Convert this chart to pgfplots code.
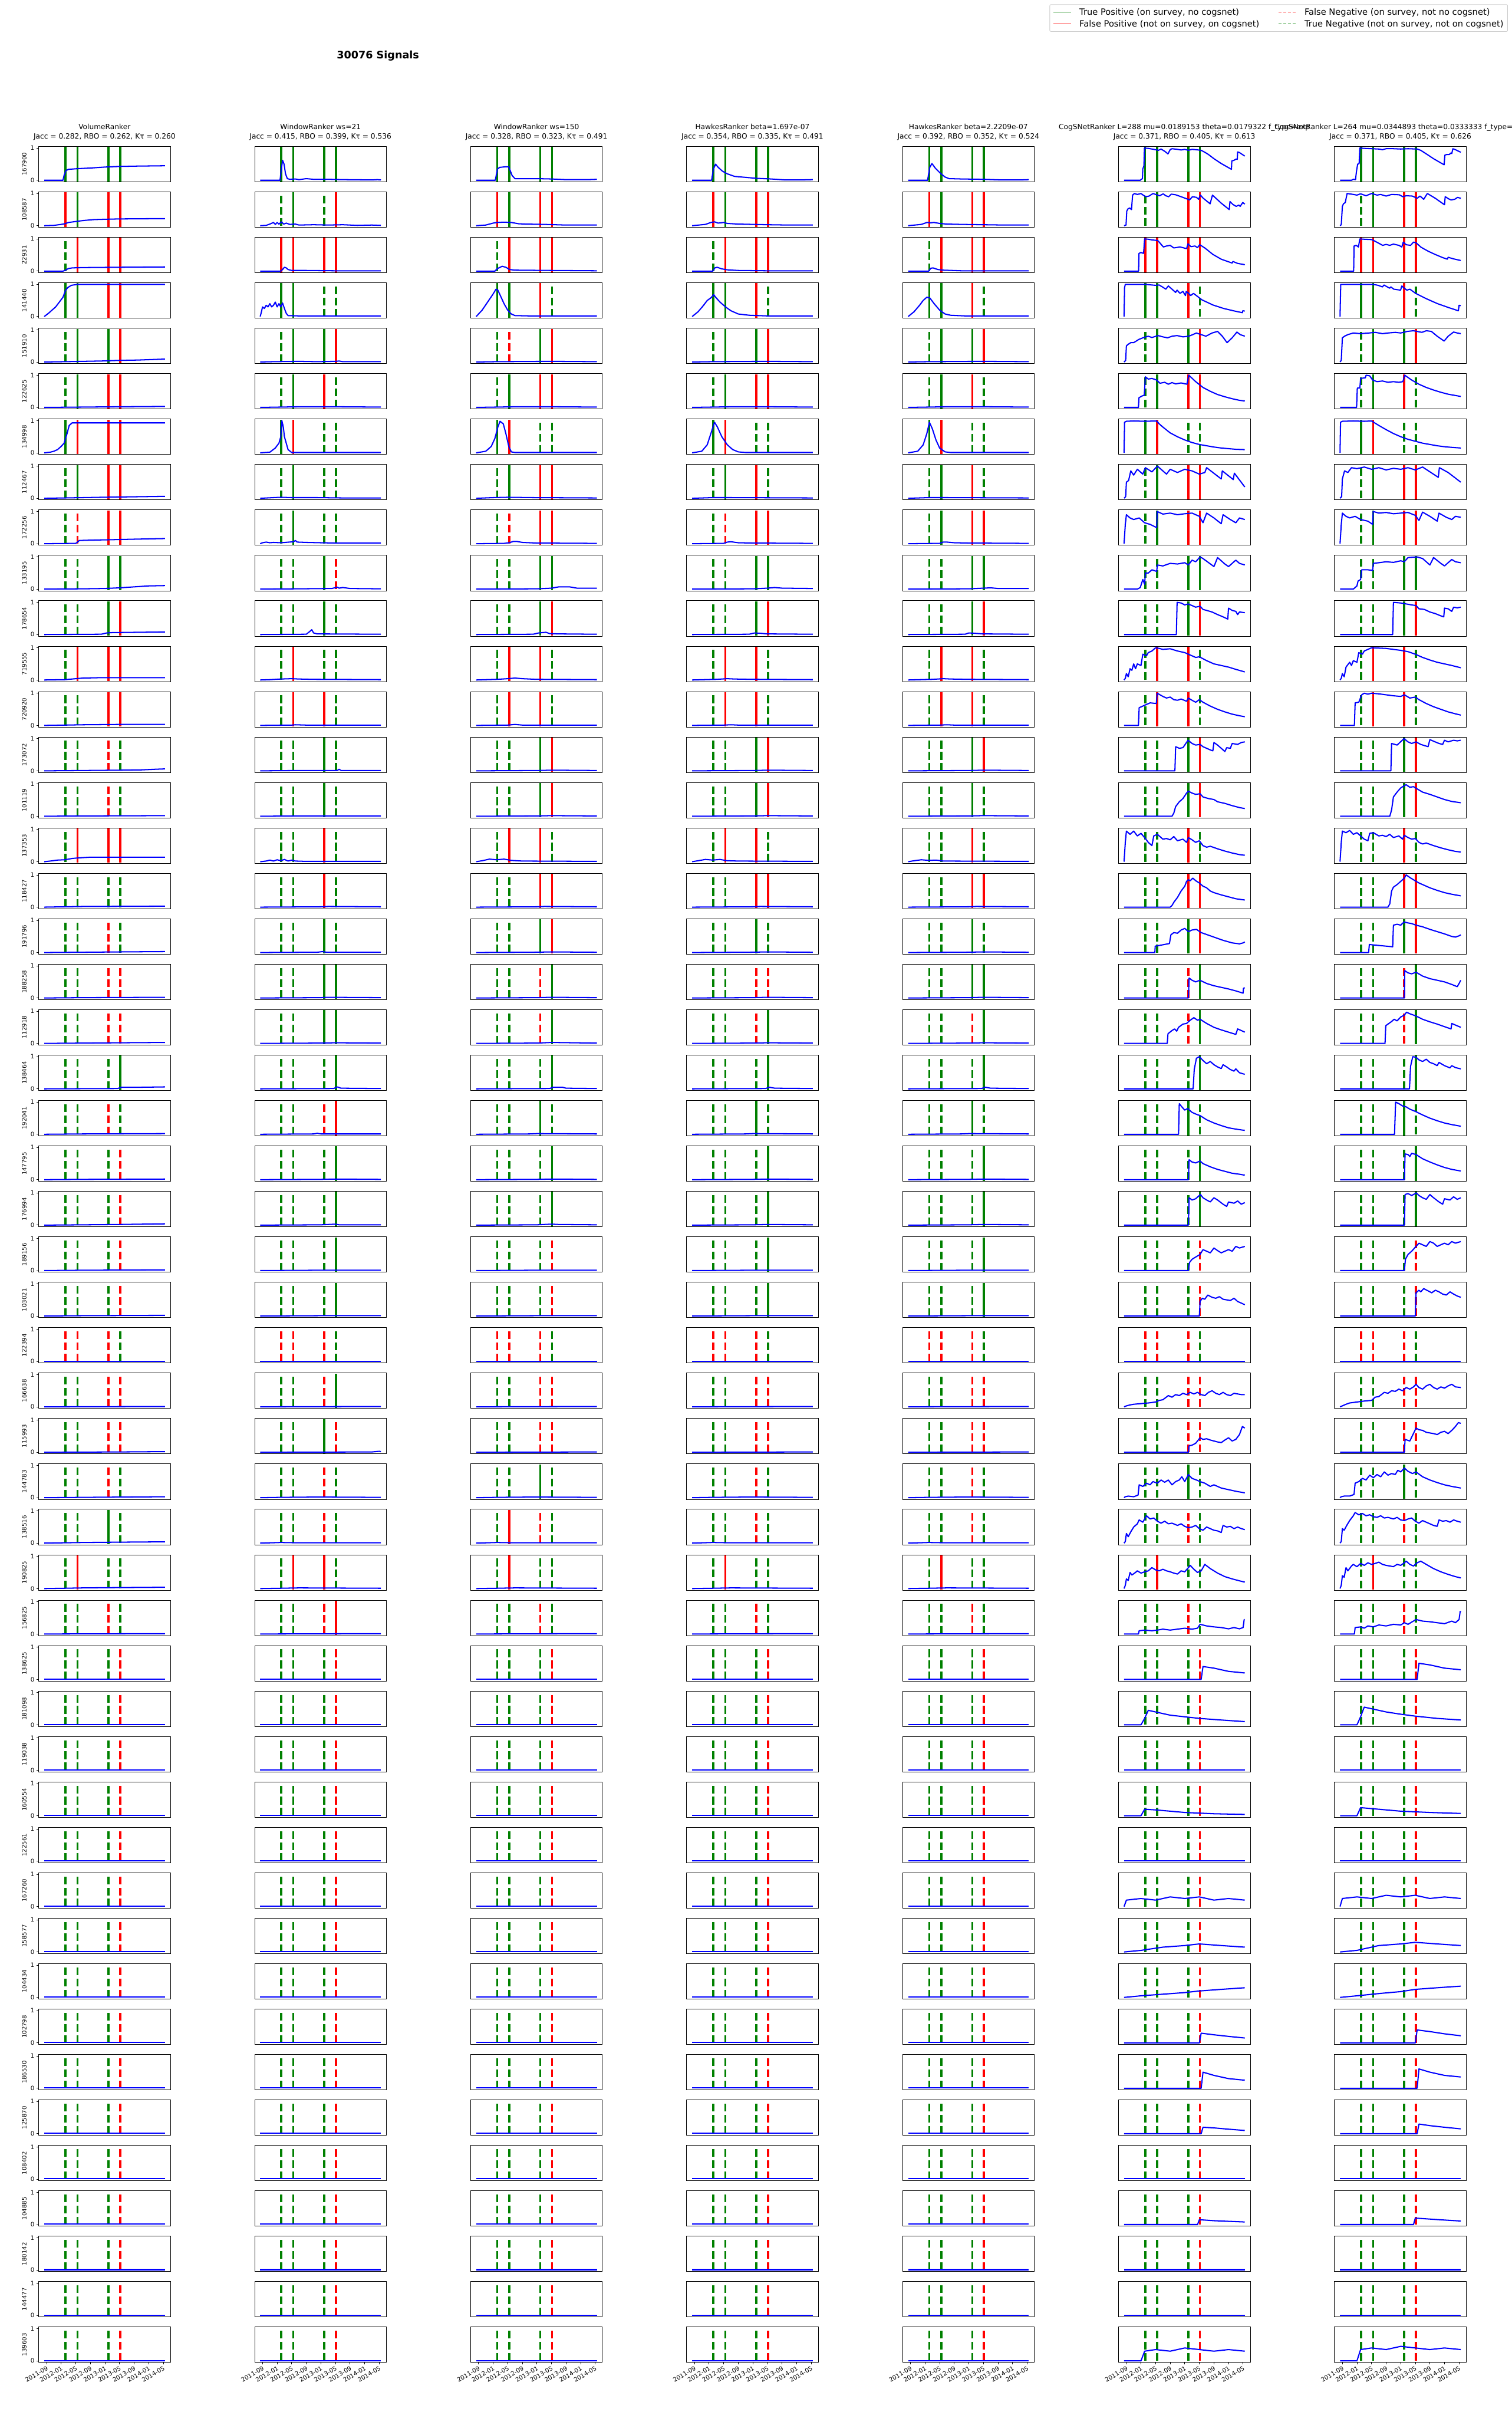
\documentclass[border=0pt]{standalone}
\usepackage{fontspec}
\setmainfont{DejaVu Sans}
\usepackage{pgfplots}
\pgfplotsset{compat=1.18}
\usepgfplotslibrary{groupplots}
\definecolor{mplgreen}{HTML}{008000}
\definecolor{mplred}{HTML}{FF0000}
\definecolor{mplblue}{HTML}{0000FF}
\definecolor{leggray}{HTML}{CCCCCC}
\pgfplotsset{
  LG/.style={mplgreen, line width=3.5pt, line cap=rect, forget plot},
  LR/.style={mplred, line width=3.5pt, line cap=rect, forget plot},
  Lg/.style={mplgreen, line width=3.5pt, dash pattern=on 12.95pt off 5.6pt, forget plot},
  Lr/.style={mplred, line width=3.5pt, dash pattern=on 12.95pt off 5.6pt, forget plot},
  CV/.style={mplblue, line width=2pt, line join=round, forget plot},
  LEFT/.style={ytick={0,1}},
  BOT/.style={xtick={0,4,8,12,16,20,24,28,32},
    xticklabels={2011-09,2012-01,2012-05,2012-09,2013-01,2013-05,2013-09,2014-01,2014-05}},
}
\newcommand\VL[4]{%
  \addplot[L#1] coordinates {(5.15,0)(5.15,1)};
  \addplot[L#2] coordinates {(8.45,0)(8.45,1)};
  \addplot[L#3] coordinates {(16.95,0)(16.95,1)};
  \addplot[L#4] coordinates {(20.16,0)(20.16,1)};}
\newcommand\Cell[2]{\nextgroupplot\VL#1\addplot[CV] coordinates {#2};}
\newcommand\First[3]{\nextgroupplot[LEFT,ylabel={#1}]\VL#2\addplot[CV] coordinates {#3};}
\newcommand\Flat[1]{\nextgroupplot\VL#1\addplot[CV] coordinates {(-0.64,0.01)(32.46,0.01)};}
\newcommand\FirstF[2]{\nextgroupplot[LEFT,ylabel={#1}]\VL#2\addplot[CV] coordinates {(-0.64,0.01)(32.46,0.01)};}
\newcommand\Zero[1]{\nextgroupplot\VL#1\addplot[CV] coordinates {(-0.64,0)(32.46,0)};}
\begin{document}
\begin{tikzpicture}
\begin{groupplot}[
  group style={group name=G, group size=7 by 49, horizontal sep=140.4pt, vertical sep=16.67pt},
  width=219.6pt, height=59.04pt, scale only axis,
  xmin=-2.17, xmax=33.95, ymin=-0.05, ymax=1.05,
  xtick=\empty, ytick=\empty,
  minor xtick={0,4,8,12,16,20,24,28,32}, minor ytick={0,1},
  tick align=outside, tick pos=left, major tick length=3.5pt, minor tick length=3.5pt,
  tick style={black, line width=0.8pt},
  axis line style={line width=0.8pt},
  tick label style={font=\fontsize{10}{12}\selectfont},
  xticklabel style={rotate=30, anchor=north east, inner sep=1.5pt},
  /pgf/number format/assume math mode=true,
  ylabel style={at={(axis description cs:-0.0915,0.5)}, anchor=south, inner sep=0pt, font=\fontsize{10}{12}\selectfont},
  title style={at={(0.5,1)}, anchor=south, yshift=4pt, inner sep=0pt, align=center, font=\fontsize{12}{15.84}\selectfont},
]
% ---------------- row 1
\nextgroupplot[LEFT, ylabel={167900}, title={VolumeRanker\\Jacc = 0.282, RBO = 0.262, Kτ = 0.260}]
\coordinate (TL) at (rel axis cs:0,1);
\VL GGGG \addplot[CV] coordinates {(-0.64,0)(4.5,0)(4.8,0.15)(5.3,0.3)(6,0.34)(8.5,0.36)(12,0.38)(16,0.41)(20,0.43)(25,0.44)(32.46,0.45)};
\nextgroupplot[title={WindowRanker ws=21\\Jacc = 0.415, RBO = 0.399, Kτ = 0.536}]
\VL GGGG \addplot[CV] coordinates {(-0.64,0)(4.8,0)(5.1,0.3)(5.5,0.62)(5.9,0.5)(6.3,0.2)(6.8,0.05)(7.5,0.03)(9,0.04)(10,0.02)(12,0.05)(14,0.03)(18,0.03)(22,0.02)(30,0.01)(31.5,0.02)(32.46,0.01)};
\nextgroupplot[title={WindowRanker ws=150\\Jacc = 0.328, RBO = 0.323, Kτ = 0.491}]
\VL GGGG \addplot[CV] coordinates {(-0.64,0)(4.6,0)(5.2,0.35)(5.8,0.4)(7.5,0.42)(8.3,0.42)(9.2,0.15)(10,0.05)(16,0.05)(20,0.04)(24,0.02)(30,0.02)(32.46,0.03)};
\nextgroupplot[title={HawkesRanker beta=1.697e-07\\Jacc = 0.354, RBO = 0.335, Kτ = 0.491}]
\VL GGGG \addplot[CV] coordinates {(-0.64,0)(4.7,0)(5.2,0.35)(5.8,0.5)(6.5,0.4)(7.7,0.28)(9,0.2)(11,0.12)(14,0.09)(17,0.06)(21,0.04)(25,0.01)(29,0.01)(32.46,0.02)};
\nextgroupplot[title={HawkesRanker beta=2.2209e-07\\Jacc = 0.392, RBO = 0.352, Kτ = 0.524}]
\VL GGGG \addplot[CV] coordinates {(-0.64,0)(4.7,0)(5.3,0.4)(5.9,0.52)(6.8,0.38)(8.2,0.22)(9.5,0.1)(10.6,0.05)(14,0.04)(20,0.03)(25,0.01)(30,0.01)(32.46,0.02)};
\nextgroupplot[title={CogSNetRanker L=288 mu=0.0189153 theta=0.0179322 f\_type=exp\\Jacc = 0.371, RBO = 0.405, Kτ = 0.613}]
\VL GGGG \addplot[CV] coordinates {(-0.64,0)(3.8,0)(4.1,0.03)(4.4,0.05)(4.5,0.35)(4.8,0.45)(4.95,1.0)(6,0.99)(7,0.97)(8,0.95)(8.8,0.93)(9.5,0.97)(10.5,0.9)(11.4,0.82)(12,0.95)(12.5,0.98)(14,0.96)(15,0.94)(16,0.96)(17,0.93)(18,0.96)(19,0.95)(20.5,0.93)(21,0.9)(21.5,0.87)(22.5,0.8)(24,0.67)(26,0.52)(28.8,0.34)(28.9,0.6)(29.5,0.62)(30.1,0.66)(30.4,0.65)(30.5,0.88)(31,0.86)(32.46,0.75)};
\nextgroupplot[title={CogSNetRanker L=264 mu=0.0344893 theta=0.0333333 f\_type=exp\\Jacc = 0.371, RBO = 0.405, Kτ = 0.626},
  legend columns=2, legend cell align=left,
  legend style={at={(1.3164,5.012)}, anchor=north east, draw=leggray, line width=0.8pt, rounded corners=2pt, fill=white,
    font=\fontsize{14.4}{17}\selectfont, inner xsep=5pt, inner ysep=4.5pt, row sep=3pt,
    /tikz/every odd column/.append style={column sep=11.5pt},
    /tikz/every even column/.append style={column sep=28.8pt}},
  legend image code/.code={\draw[#1] (0pt,0pt) -- (29.5pt,0pt);}]
\addlegendimage{mplgreen, line width=1.5pt}
\addlegendentry{True Positive (on survey, no cogsnet)}
\addlegendimage{mplred, line width=1.5pt, dash pattern=on 5.55pt off 2.4pt}
\addlegendentry{False Negative (on survey, not no cogsnet)}
\addlegendimage{mplred, line width=1.5pt}
\addlegendentry{False Positive (not on survey, on cogsnet)}
\addlegendimage{mplgreen, line width=1.5pt, dash pattern=on 5.55pt off 2.4pt}
\addlegendentry{True Negative (not on survey, not on cogsnet)}
\VL GGGG \addplot[CV] coordinates {(-0.64,0)(2.5,0)(3,0.03)(3.6,0.02)(3.9,0.3)(4.2,0.5)(4.6,0.52)(4.8,1.0)(6,0.99)(8,0.98)(10,0.97)(11,0.95)(12,0.98)(14,0.98)(16,0.97)(18,0.98)(20.5,0.97)(21.5,0.93)(23,0.82)(25,0.67)(27.9,0.48)(28.1,0.78)(28.6,0.8)(29.3,0.8)(29.8,0.85)(30,0.83)(30.3,0.98)(31,0.95)(32.46,0.87)};
% ---------------- row 2
\First{108587}{RGRR}{(-0.64,0)(2,0.01)(4,0.04)(5,0.06)(6,0.1)(8,0.13)(10,0.16)(13,0.19)(16,0.2)(20,0.21)(32.46,0.22)}
\Cell{gGgR}{(-0.64,0)(1,0.01)(2,0.05)(3,0.1)(3.5,0.04)(4,0.1)(4.5,0.05)(5.2,0.12)(5.8,0.05)(6.5,0.08)(7.5,0.04)(9,0.05)(10,0.02)(14,0.03)(18,0.02)(22,0.03)(26,0.01)(30,0.02)(32.46,0.01)}
\Cell{RGRR}{(-0.64,0)(2,0.02)(4,0.08)(5,0.1)(7,0.11)(9,0.1)(10,0.08)(11,0.06)(13,0.05)(18,0.04)(24,0.02)(32.46,0.02)}
\Cell{RGRR}{(-0.64,0)(3,0.04)(4.5,0.1)(5.5,0.12)(6.5,0.08)(8,0.1)(9,0.07)(12,0.05)(16,0.04)(20,0.03)(26,0.02)(32.46,0.02)}
\Cell{RGRR}{(-0.64,0)(3,0.04)(4.5,0.1)(5.5,0.09)(6.5,0.1)(8,0.07)(10,0.05)(14,0.04)(20,0.03)(26,0.02)(32.46,0.02)}
\Cell{gGRR}{(-0.64,0)(-0.1,0.02)(0.1,0.45)(0.4,0.52)(0.9,0.55)(1.4,0.5)(1.7,0.95)(2.2,1.0)(3,0.97)(4,1.0)(4.6,0.95)(5.4,0.9)(6.2,0.92)(7.3,1.0)(8.3,0.96)(9.1,0.93)(10.1,0.99)(10.8,0.93)(11.6,0.9)(12.3,0.98)(13.5,0.96)(14.5,0.92)(16.2,0.85)(17.3,0.8)(18.1,0.9)(19.2,0.88)(19.8,0.82)(20.3,0.95)(21,0.86)(22.95,0.68)(23.6,0.95)(26,0.7)(28.2,0.5)(28.4,0.75)(29.2,0.66)(30.1,0.6)(30.8,0.64)(31.2,0.6)(31.9,0.72)(32.46,0.67)}
\Cell{gGRR}{(-0.64,0)(-0.3,0.03)(0,0.6)(0.3,0.68)(0.8,0.72)(1.3,1.0)(2.5,0.98)(4,0.95)(5,0.99)(6.5,0.93)(8,1.0)(9.5,0.95)(10.5,0.97)(12,0.92)(13.5,0.97)(15.6,0.96)(16.6,0.9)(17.5,0.93)(19.2,0.92)(20.5,0.85)(21.3,0.92)(22.3,0.82)(23.3,1.0)(25.5,0.85)(28,0.65)(28.2,0.9)(29.2,0.83)(29.8,0.8)(30.8,0.82)(31.6,0.88)(32.46,0.85)}
% ---------------- row 3
\First{22931}{gRRR}{(-0.64,0)(4.5,0)(5,0.02)(6,0.08)(7,0.1)(10,0.11)(20,0.12)(32.46,0.13)}
\Cell{RRRR}{(-0.64,0)(5,0)(5.5,0.05)(6,0.12)(6.5,0.1)(7,0.05)(8,0.02)(12,0.02)(20,0.01)(32.46,0.01)}
\Cell{gRRR}{(-0.64,0)(4.5,0)(5.2,0.08)(6.5,0.15)(7.5,0.12)(8.5,0.05)(10,0.03)(20,0.02)(32.46,0.01)}
\Cell{gRRR}{(-0.64,0)(5,0)(5.6,0.1)(6.2,0.12)(7.5,0.07)(9,0.04)(12,0.02)(20,0.01)(32.46,0.01)}
\Cell{gRRR}{(-0.64,0)(5,0)(5.6,0.09)(6.2,0.1)(7.5,0.05)(9,0.03)(14,0.01)(32.46,0.01)}
\Cell{RRRR}{(-0.64,0)(3.35,0)(3.45,0.55)(4,0.58)(4.7,0.55)(5.0,1.0)(6,0.99)(7,0.97)(8.6,0.95)(10.15,0.75)(11,0.78)(12,0.8)(13,0.72)(14.7,0.75)(16.5,0.7)(16.9,0.85)(17.7,0.76)(18.8,0.78)(19.5,0.73)(20.1,0.82)(21.5,0.72)(23.7,0.52)(26,0.37)(29,0.25)(29.2,0.3)(30.5,0.24)(32.46,0.2)}
\Cell{RRRR}{(-0.64,0)(3.1,0)(3.2,0.78)(3.8,0.8)(4.4,0.75)(4.8,1.0)(6,0.99)(8,0.98)(8.6,0.95)(11.06,0.8)(12,0.83)(13,0.8)(14,0.84)(15.5,0.8)(16.3,0.75)(16.7,0.9)(17.5,0.82)(18.7,0.8)(19.5,0.9)(20.2,0.88)(21.6,0.74)(23.5,0.62)(25.4,0.52)(27.5,0.42)(28.8,0.37)(29,0.43)(30.5,0.38)(32.46,0.33)}
% ---------------- row 4
\First{141440}{GGRR}{(-0.64,0)(0.5,0.1)(1.5,0.2)(2.5,0.3)(3.5,0.45)(4.5,0.6)(5.15,0.8)(5.8,0.9)(6.8,0.97)(8.5,1.0)(32.46,1.0)}
\Cell{GGgg}{(-0.64,0)(-0.3,0.15)(0,0.3)(0.5,0.25)(1,0.35)(1.5,0.3)(2,0.4)(2.5,0.3)(3,0.35)(3.5,0.45)(4,0.3)(4.5,0.4)(5,0.3)(5.5,0.42)(6,0.25)(6.5,0.1)(7,0.03)(10,0.02)(32.46,0.02)}
\Cell{GGRg}{(-0.64,0)(1,0.2)(2.5,0.45)(4,0.7)(4.8,0.85)(5.3,0.82)(6,0.65)(7,0.4)(8,0.2)(9,0.08)(10,0.03)(14,0.02)(32.46,0.02)}
\Cell{GGRg}{(-0.64,0)(1,0.15)(2.5,0.35)(3.5,0.5)(4.5,0.58)(5.3,0.68)(5.8,0.6)(7,0.45)(8.5,0.3)(10,0.18)(12,0.08)(15,0.04)(20,0.02)(32.46,0.02)}
\Cell{GGRg}{(-0.64,0)(1,0.15)(2.5,0.35)(3.5,0.5)(4.5,0.6)(5.3,0.58)(6.5,0.4)(8,0.2)(9.5,0.08)(11,0.04)(15,0.02)(32.46,0.02)}
\Cell{GGRg}{(-0.64,0)(-0.5,0.9)(-0.3,1.0)(5.3,1.0)(7,0.98)(8,0.97)(9,0.98)(10.15,0.9)(10.8,0.85)(11.5,0.95)(12.3,0.87)(13.5,0.75)(13.9,0.82)(14.7,0.72)(15.5,0.78)(16.2,0.65)(16.4,0.78)(17.1,0.72)(17.6,0.65)(18.4,0.72)(20.7,0.52)(23.7,0.36)(26.7,0.25)(29.7,0.17)(31.8,0.12)(31.9,0.18)(32.46,0.17)}
\Cell{GGRg}{(-0.64,0)(-0.45,1.0)(8.4,1.0)(9.8,0.97)(11.0,0.92)(11.4,0.98)(12.95,0.88)(13.3,0.92)(14.1,0.85)(15.96,0.82)(16.3,0.95)(17,0.88)(17.7,0.82)(18.5,0.85)(20.1,0.72)(23.1,0.55)(26.1,0.4)(29.1,0.28)(31.8,0.18)(32.0,0.35)(32.46,0.34)}
% ---------------- row 5
\First{151910}{gGGR}{(-0.64,0)(5,0.01)(10,0.02)(15,0.03)(20,0.05)(25,0.06)(30,0.08)(32.46,0.09)}
\Cell{gGGR}{(-0.64,0)(3,0.01)(10,0.02)(15,0.01)(20,0.02)(21,0.03)(22,0.01)(32.46,0.01)}
\Cell{grGR}{(-0.64,0)(5,0.01)(20,0.02)(32.46,0.01)}
\Cell{gGGR}{(-0.64,0)(5,0.01)(20,0.02)(32.46,0.01)}
\Cell{gGGR}{(-0.64,0)(5,0.01)(20,0.02)(32.46,0.01)}
\Cell{gGGR}{(-0.64,0)(-0.2,0.05)(0,0.5)(0.5,0.55)(1.2,0.6)(2,0.6)(3.4,0.7)(4.5,0.75)(6,0.8)(7,0.76)(8.7,0.82)(10,0.78)(11.3,0.75)(12.5,0.8)(13.9,0.82)(15.5,0.78)(17.1,0.8)(18.2,0.85)(19.2,0.9)(20.5,0.85)(21.8,0.8)(23.5,0.9)(25,0.95)(26.3,0.8)(27.6,0.6)(29,0.75)(30.3,0.93)(31.2,0.85)(32.46,0.8)}
\Cell{gGGR}{(-0.64,0)(-0.3,0.05)(0,0.75)(0.6,0.8)(1.5,0.85)(3,0.9)(5,0.88)(7.3,0.9)(9,0.92)(11,0.88)(12.5,0.9)(14.5,0.92)(16,0.9)(17.8,0.95)(19.5,0.97)(21.8,0.92)(23,0.97)(24.4,0.95)(26,0.8)(27.9,0.65)(29,0.8)(30.5,0.93)(31.5,0.9)(32.46,0.88)}
% ---------------- row 6
\First{122625}{gGRR}{(-0.64,0)(10,0.01)(20,0.02)(32.46,0.03)}
\Cell{gGRg}{(-0.64,0)(5,0.01)(10,0.02)(20,0.02)(32.46,0.01)}
\Cell{gGRR}{(-0.64,0)(5,0.01)(10,0.02)(20,0.02)(32.46,0.01)}
\Cell{gGRR}{(-0.64,0)(5,0.01)(10,0.02)(20,0.02)(32.46,0.01)}
\Cell{gGRg}{(-0.64,0)(5,0.01)(10,0.02)(20,0.02)(32.46,0.01)}
\Cell{gGRR}{(-0.64,0)(3.3,0)(3.45,0.3)(4.2,0.35)(4.9,0.38)(5.2,0.95)(6,0.88)(7,0.9)(8.3,0.85)(9.2,0.75)(10.5,0.78)(11.5,0.72)(12.5,0.77)(13.5,0.73)(15,0.76)(16.6,0.72)(17.1,1.0)(19,0.8)(21,0.62)(23,0.5)(25,0.4)(27,0.33)(29,0.27)(31,0.22)(32.46,0.2)}
\Cell{gGRg}{(-0.64,0)(3.9,0)(4.1,0.6)(4.8,0.6)(5.0,0.9)(6.3,0.92)(6.5,1.0)(7.5,0.98)(8.3,0.85)(9.5,0.8)(11,0.82)(12.5,0.78)(14,0.8)(15.5,0.78)(16.6,0.8)(17.1,1.0)(19,0.85)(21,0.72)(23,0.62)(25,0.54)(27,0.47)(29,0.41)(31,0.37)(32.46,0.34)}
% ---------------- row 7
\First{134998}{GRRR}{(-0.64,0)(1,0.02)(2,0.05)(3,0.1)(4,0.2)(4.8,0.3)(5.5,0.55)(6.2,0.85)(7,0.93)(32.46,0.93)}
\Cell{GRgg}{(-0.64,0)(2,0.02)(3.5,0.15)(4.5,0.3)(5.0,0.5)(5.3,1.0)(5.7,0.8)(6.0,0.5)(6.5,0.3)(7,0.1)(8,0.01)(32.46,0.01)}
\Cell{GRgg}{(-0.64,0)(2,0.05)(3.5,0.2)(4.5,0.45)(5.3,0.8)(5.9,0.98)(6.8,0.9)(7.5,0.6)(8.3,0.2)(9,0.03)(10,0.01)(32.46,0.01)}
\Cell{GRgg}{(-0.64,0)(2,0.05)(3.5,0.25)(4.5,0.6)(5.5,0.95)(6.3,0.8)(7.5,0.5)(9,0.25)(10.5,0.1)(12,0.03)(14,0.01)(32.46,0.01)}
\Cell{GRgg}{(-0.64,0)(2,0.05)(3.5,0.25)(4.5,0.6)(5.2,0.95)(6,0.75)(7,0.4)(8,0.15)(9.5,0.03)(11,0.01)(32.46,0.01)}
\Cell{GRgg}{(-0.64,0)(-0.5,0.95)(0,0.98)(2,0.99)(5,0.98)(8.3,0.99)(9,0.9)(10,0.8)(12,0.62)(14,0.5)(16,0.4)(18,0.32)(20,0.26)(22,0.22)(24,0.18)(26,0.15)(28,0.13)(30,0.11)(32.46,0.1)}
\Cell{GRgg}{(-0.64,0)(-0.5,0.95)(0,0.98)(3,0.99)(6,0.98)(8,0.99)(9,0.92)(10,0.85)(12,0.72)(14,0.6)(16,0.5)(18,0.42)(20,0.36)(22,0.3)(24,0.26)(26,0.22)(28,0.19)(30,0.17)(32.46,0.15)}
% ---------------- row 8
\First{112467}{gGRR}{(-0.64,0)(10,0.02)(20,0.04)(32.46,0.06)}
\Cell{gGgg}{(-0.64,0)(3,0.02)(5,0.03)(8,0.02)(15,0.02)(22,0.01)(32.46,0.01)}
\Cell{gGRR}{(-0.64,0)(4,0.02)(8,0.03)(15,0.02)(32.46,0.01)}
\Cell{gGRg}{(-0.64,0)(5,0.02)(10,0.02)(32.46,0.01)}
\Cell{gGRg}{(-0.64,0)(5,0.02)(10,0.02)(32.46,0.01)}
\Cell{gGRR}{(-0.64,0)(-0.2,0.05)(0,0.5)(0.6,0.55)(1.2,0.85)(2,0.72)(3,0.9)(4.5,0.75)(5.2,0.95)(7,0.82)(8.5,1.0)(9.5,0.9)(11,0.75)(12,0.9)(14,0.8)(16,0.9)(18,0.85)(20,0.75)(21.5,0.8)(22,0.95)(26,0.6)(26.3,0.85)(29.3,0.58)(29.6,0.78)(32.46,0.35)}
\Cell{gGRR}{(-0.64,0)(-0.2,0.05)(0,0.6)(0.6,0.85)(1.5,0.8)(2.5,0.95)(4,0.92)(6,0.97)(8,0.9)(10,0.95)(12,0.88)(14,0.93)(16,0.9)(18,0.95)(20,0.88)(22,0.97)(26.3,0.65)(26.6,0.95)(29,0.8)(32.46,0.5)}
% ---------------- row 9
\First{172256}{grRR}{(-0.64,0)(8,0.01)(8.5,0.05)(9,0.1)(12,0.11)(16,0.12)(24,0.14)(32.46,0.16)}
\Cell{gGgg}{(-0.64,0)(0,0.03)(1,0.05)(2,0.03)(3,0.04)(5,0.03)(8.5,0.06)(9,0.1)(9.5,0.05)(12,0.04)(16,0.03)(20,0.02)(32.46,0.02)}
\Cell{grRR}{(-0.64,0)(7,0.01)(8.5,0.03)(9.5,0.07)(10.5,0.07)(12,0.04)(16,0.02)(32.46,0.01)}
\Cell{grRR}{(-0.64,0)(8,0.01)(9,0.05)(10,0.06)(12,0.03)(16,0.02)(32.46,0.01)}
\Cell{gGRR}{(-0.64,0)(8,0.01)(9,0.05)(10,0.05)(12,0.03)(16,0.02)(32.46,0.01)}
\Cell{gGRR}{(-0.64,0)(-0.3,0.6)(0,0.9)(1,0.8)(2,0.75)(3.5,0.8)(5,0.65)(6.5,0.6)(8.3,0.5)(8.45,1.0)(10,0.92)(12,0.95)(14,0.9)(16,0.93)(18,0.95)(20,0.85)(21,0.65)(22,0.95)(24,0.8)(26,0.62)(26.5,0.9)(28.5,0.75)(30,0.65)(31,0.8)(32.46,0.75)}
\Cell{gGRR}{(-0.64,0)(-0.3,0.6)(0,0.95)(1,0.85)(2,0.8)(3.5,0.85)(5,0.75)(7,0.7)(8.3,0.6)(8.45,1.0)(10,0.95)(12,0.97)(14,0.93)(16,0.95)(18,0.97)(20,0.88)(21,0.72)(22,0.98)(24,0.85)(26,0.7)(26.5,0.95)(28.5,0.82)(30,0.75)(31,0.85)(32.46,0.82)}
% ---------------- row 10
\First{133195}{ggGG}{(-0.64,0)(10,0.01)(16,0.02)(20,0.04)(24,0.07)(28,0.1)(32.46,0.11)}
\Cell{ggGr}{(-0.64,0)(10,0.01)(19,0.02)(20.5,0.06)(21,0.03)(22,0.05)(24,0.02)(32.46,0.01)}
\Cell{ggGG}{(-0.64,0)(16,0.01)(20,0.03)(22,0.07)(25,0.07)(27,0.03)(32.46,0.03)}
\Cell{ggGG}{(-0.64,0)(16,0.01)(20,0.03)(22,0.05)(24,0.03)(32.46,0.02)}
\Cell{ggGG}{(-0.64,0)(16,0.01)(20,0.03)(22,0.04)(24,0.02)(32.46,0.02)}
\Cell{ggGG}{(-0.64,0)(3,0)(3.8,0.05)(4.5,0.3)(5,0.15)(5.2,0.5)(6,0.5)(7,0.6)(8.3,0.55)(8.5,0.75)(10,0.72)(12,0.8)(14,0.78)(16,0.82)(17,0.75)(18,0.9)(19,0.85)(20.2,1.0)(21,0.95)(24,0.7)(25,0.98)(27,0.78)(28,0.7)(30,0.9)(31,0.8)(32.46,0.75)}
\Cell{ggGG}{(-0.64,0)(3,0)(4,0.1)(4.3,0.25)(5,0.3)(5.3,0.6)(7,0.6)(8.3,0.58)(8.5,0.8)(10,0.82)(12,0.85)(14,0.83)(16,0.88)(17,0.85)(18,0.98)(20.5,1.0)(22,0.95)(24,0.75)(25,0.98)(27,0.8)(28,0.72)(30,0.92)(31,0.85)(32.46,0.82)}
% ---------------- row 11
\First{178654}{ggGR}{(-0.64,0)(15,0.01)(16.5,0.05)(18,0.06)(25,0.07)(32.46,0.08)}
\Cell{ggGg}{(-0.64,0)(12,0.01)(13,0.1)(13.5,0.15)(14,0.05)(15,0.02)(32.46,0.01)}
\Cell{ggGR}{(-0.64,0)(15,0.01)(16.5,0.05)(18.5,0.07)(19.5,0.03)(22,0.02)(32.46,0.01)}
\Cell{ggGR}{(-0.64,0)(15,0.01)(16.5,0.05)(18,0.04)(20,0.02)(32.46,0.01)}
\Cell{ggGR}{(-0.64,0)(15,0.01)(16,0.05)(17.5,0.04)(20,0.02)(32.46,0.01)}
\Cell{ggGR}{(-0.64,0)(13.7,0)(13.9,1.0)(15,0.98)(16,0.92)(16.95,0.95)(18,0.9)(19,0.85)(20.2,0.88)(21,0.78)(22,0.75)(23.5,0.7)(25,0.62)(26.5,0.55)(27.8,0.48)(28,0.82)(29,0.75)(30,0.72)(30.5,0.62)(31,0.7)(32.46,0.68)}
\Cell{ggGR}{(-0.64,0)(13.8,0)(14,1.0)(16,0.98)(17.5,0.95)(19,0.92)(20.2,0.9)(21,0.8)(22.5,0.78)(24,0.7)(25.5,0.65)(27,0.58)(27.8,0.55)(28,0.82)(29,0.8)(30,0.72)(30.5,0.85)(31.5,0.83)(32.46,0.85)}
% ---------------- row 12
\First{719555}{gRRR}{(-0.64,0)(5,0.01)(8,0.04)(10,0.06)(14,0.07)(32.46,0.07)}
\Cell{gRgg}{(-0.64,0)(2,0.01)(5,0.03)(8,0.04)(10,0.03)(14,0.02)(32.46,0.01)}
\Cell{gRRg}{(-0.64,0)(5,0.02)(8,0.04)(10,0.06)(12,0.04)(16,0.02)(32.46,0.01)}
\Cell{gRRg}{(-0.64,0)(6,0.02)(9,0.04)(11,0.03)(16,0.02)(32.46,0.01)}
\Cell{gRRg}{(-0.64,0)(6,0.02)(9,0.04)(11,0.03)(16,0.02)(32.46,0.01)}
\Cell{gRRg}{(-0.64,0)(-0.3,0.05)(0,0.2)(0.5,0.1)(1,0.35)(1.5,0.3)(2,0.5)(2.5,0.35)(3,0.5)(4,0.45)(4.5,0.8)(5.5,0.75)(6,0.85)(7,0.9)(8,1.0)(9,0.98)(10,0.95)(12,0.97)(14,0.9)(16,0.85)(17,0.8)(18,0.75)(19,0.7)(20,0.72)(22,0.6)(24,0.5)(26,0.45)(28,0.4)(30,0.33)(32.46,0.25)}
\Cell{gRRg}{(-0.64,0)(-0.3,0.05)(0,0.2)(0.5,0.1)(1,0.4)(2,0.55)(2.5,0.45)(3,0.6)(4,0.55)(4.5,0.85)(5.5,0.8)(6,0.9)(7,0.95)(8,1.0)(12,0.98)(14,0.95)(16,0.92)(18,0.88)(20,0.8)(22,0.7)(24,0.62)(26,0.55)(28,0.5)(30,0.45)(32.46,0.38)}
% ---------------- row 13
\First{720920}{ggRR}{(-0.64,0)(5,0.01)(10,0.02)(20,0.03)(32.46,0.03)}
\Cell{gRRg}{(-0.64,0)(8,0.01)(9,0.02)(12,0.01)(32.46,0.01)}
\Cell{gRRg}{(-0.64,0)(8,0.01)(10,0.03)(12,0.01)(32.46,0.01)}
\Cell{gRRg}{(-0.64,0)(8,0.01)(10,0.02)(12,0.01)(32.46,0.01)}
\Cell{gRRg}{(-0.64,0)(8,0.01)(10,0.02)(12,0.01)(32.46,0.01)}
\Cell{gRRg}{(-0.64,0)(3.3,0)(3.5,0.55)(4.5,0.6)(5.5,0.65)(6.5,0.7)(8.2,0.68)(8.45,1.0)(10,0.9)(11,0.85)(12,0.88)(13,0.8)(14,0.78)(15,0.82)(16.5,0.75)(17,0.85)(18,0.78)(19,0.72)(20,0.8)(21,0.72)(23,0.6)(25,0.5)(27,0.42)(29,0.35)(31,0.3)(32.46,0.27)}
\Cell{gRRg}{(-0.64,0)(3.3,0)(3.5,0.7)(4.5,0.72)(5.3,0.95)(6,1.0)(7,0.97)(8,1.0)(10,0.98)(12,0.95)(14,0.92)(16,0.9)(17,0.95)(18.5,0.85)(20,0.88)(21,0.8)(23,0.68)(25,0.58)(27,0.5)(29,0.42)(31,0.36)(32.46,0.32)}
% ---------------- row 14
\First{173072}{ggrg}{(-0.64,0)(10,0.01)(20,0.02)(26,0.03)(30,0.05)(32.46,0.06)}
\Cell{ggGg}{(-0.64,0)(10,0.01)(20.5,0.01)(21,0.05)(21.5,0.01)(32.46,0.01)}
\Cell{ggGR}{(-0.64,0)(16,0.01)(20,0.02)(32.46,0.01)}
\Cell{ggGR}{(-0.64,0)(16,0.01)(20,0.02)(32.46,0.01)}
\Cell{ggGR}{(-0.64,0)(16,0.01)(20,0.02)(32.46,0.01)}
\Cell{ggGR}{(-0.64,0)(13.3,0)(13.5,0.75)(14.5,0.7)(15.5,0.72)(16.9,0.95)(18,0.85)(19,0.8)(20.2,0.82)(21,0.75)(22,0.7)(23,0.65)(23.7,0.62)(24,0.88)(25,0.8)(26,0.7)(27,0.6)(27.5,0.72)(28.5,0.7)(29,0.85)(30.5,0.82)(31.5,0.88)(32.46,0.9)}
\Cell{ggGR}{(-0.64,0)(13.3,0)(13.5,0.85)(15,0.8)(16.9,1.0)(18,0.9)(19,0.85)(20.2,0.9)(21.5,0.82)(23.5,0.75)(24,0.97)(25,0.92)(26.5,0.85)(27.5,0.82)(28,0.95)(29,0.9)(30.5,0.95)(31.5,0.93)(32.46,0.95)}
% ---------------- row 15
\First{101119}{ggrg}{(-0.64,0)(10,0.01)(32.46,0.02)}
\Cell{ggGg}{(-0.64,0)(10,0.01)(32.46,0.01)}
\Cell{ggGR}{(-0.64,0)(16,0.01)(20,0.02)(32.46,0.01)}
\Cell{ggGR}{(-0.64,0)(16,0.01)(20,0.02)(32.46,0.01)}
\Cell{ggGg}{(-0.64,0)(16,0.01)(20,0.02)(32.46,0.01)}
\Cell{ggGR}{(-0.64,0)(12.5,0)(13,0.1)(13.5,0.3)(14.5,0.45)(15.5,0.55)(16.5,0.72)(17,0.78)(18,0.72)(19,0.68)(20.2,0.7)(21,0.6)(22.5,0.55)(24,0.52)(25,0.45)(27,0.4)(29,0.33)(31,0.27)(32.46,0.24)}
\Cell{ggGR}{(-0.64,0)(13,0)(13.5,0.2)(14,0.6)(15,0.75)(16,0.88)(17,0.95)(17.5,0.98)(18.5,0.9)(19.5,0.92)(20.5,0.85)(22,0.75)(24,0.68)(26,0.6)(28,0.52)(30,0.46)(32.46,0.42)}
% ---------------- row 16
\First{137353}{gRRR}{(-0.64,0)(1,0.02)(3,0.05)(5,0.06)(7,0.1)(9,0.12)(12,0.14)(32.46,0.14)}
\Cell{ggRg}{(-0.64,0)(1,0.02)(2,0.05)(3,0.02)(4,0.06)(5,0.03)(6,0.07)(7,0.02)(8,0.05)(9,0.02)(12,0.01)(32.46,0.01)}
\Cell{gRRg}{(-0.64,0)(1,0.03)(3,0.08)(5,0.06)(7,0.08)(9,0.04)(12,0.02)(32.46,0.01)}
\Cell{gRRg}{(-0.64,0)(1,0.03)(3,0.07)(5,0.05)(7,0.07)(9,0.03)(12,0.02)(32.46,0.01)}
\Cell{ggRg}{(-0.64,0)(1,0.03)(3,0.06)(5,0.04)(7,0.05)(9,0.02)(32.46,0.01)}
\Cell{ggRg}{(-0.64,0)(-0.3,0.6)(0,0.95)(1,0.85)(2,0.95)(3,0.8)(4,0.88)(5,0.75)(6,0.6)(7,0.5)(7.5,0.8)(8.5,0.85)(10,0.7)(11,0.72)(12,0.68)(13,0.78)(14,0.65)(15.5,0.7)(16.5,0.6)(17,0.75)(18,0.68)(19,0.6)(20,0.65)(21,0.5)(22,0.45)(23,0.48)(25,0.4)(27,0.33)(29,0.27)(31,0.22)(32.46,0.2)}
\Cell{ggRg}{(-0.64,0)(-0.3,0.6)(0,0.95)(1,0.9)(2,0.97)(3,0.85)(4,0.9)(5,0.8)(6,0.7)(7,0.65)(7.5,0.88)(8.5,0.9)(10,0.8)(11,0.82)(12,0.78)(13,0.85)(14,0.75)(15.5,0.8)(16.5,0.7)(17,0.82)(18,0.75)(19,0.7)(20,0.72)(21,0.6)(22,0.55)(23,0.58)(25,0.5)(27,0.43)(29,0.37)(31,0.32)(32.46,0.3)}
% ---------------- row 17
\First{118427}{gggg}{(-0.64,0)(10,0.02)(32.46,0.03)}
\Cell{ggRg}{(-0.64,0)(16,0.01)(18,0.02)(32.46,0.01)}
\Cell{ggRR}{(-0.64,0)(16,0.01)(18,0.02)(32.46,0.01)}
\Cell{ggRR}{(-0.64,0)(16,0.01)(18,0.02)(32.46,0.01)}
\Cell{ggRR}{(-0.64,0)(16,0.01)(18,0.02)(32.46,0.01)}
\Cell{ggRR}{(-0.64,0)(12,0)(12.5,0.05)(13,0.15)(14,0.3)(14.5,0.4)(15,0.5)(16,0.65)(16.5,0.8)(17,0.85)(17.5,0.82)(18.2,0.9)(19,0.82)(20,0.75)(21,0.65)(22,0.6)(23,0.5)(24,0.45)(26,0.38)(28,0.32)(30,0.26)(32.46,0.22)}
\Cell{ggRR}{(-0.64,0)(12.5,0)(13,0.1)(13.5,0.5)(14,0.62)(15,0.7)(16,0.8)(17,0.9)(17.5,1.0)(18.5,0.92)(19.5,0.85)(21,0.75)(22,0.7)(24,0.6)(26,0.52)(28,0.45)(30,0.4)(32.46,0.35)}
% ---------------- row 18
\First{191796}{ggrg}{(-0.64,0)(10,0.01)(20,0.02)(32.46,0.03)}
\Cell{ggGg}{(-0.64,0)(15,0.01)(16.5,0.03)(17.5,0.01)(32.46,0.01)}
\Cell{ggGR}{(-0.64,0)(15,0.01)(20,0.02)(32.46,0.01)}
\Cell{ggGg}{(-0.64,0)(15,0.01)(20,0.02)(32.46,0.01)}
\Cell{ggGg}{(-0.64,0)(15,0.01)(20,0.02)(32.46,0.01)}
\Cell{ggGR}{(-0.64,0)(7.8,0)(7.9,0.2)(9,0.22)(11.8,0.28)(12.2,0.55)(13,0.62)(14,0.6)(15,0.7)(16,0.75)(17,0.65)(18,0.7)(19.2,0.72)(20.5,0.62)(23,0.52)(26.5,0.38)(29,0.3)(31,0.27)(32,0.3)(32.46,0.33)}
\Cell{ggGR}{(-0.64,0)(7.2,0)(7.4,0.25)(10,0.22)(13.8,0.18)(14,0.85)(15,0.88)(16,0.85)(16.9,0.95)(18,0.92)(19,0.9)(20.2,0.85)(22,0.8)(24,0.72)(26,0.65)(28,0.58)(30,0.5)(31,0.48)(32,0.52)(32.46,0.55)}
% ---------------- row 19
\First{188258}{ggrr}{(-0.64,0)(10,0.01)(32.46,0.02)}
\Cell{ggGG}{(-0.64,0)(16,0.01)(17.5,0.02)(32.46,0.01)}
\Cell{ggrG}{(-0.64,0)(16,0.01)(20,0.02)(32.46,0.01)}
\Cell{ggrr}{(-0.64,0)(16,0.01)(20,0.02)(32.46,0.01)}
\Cell{ggGG}{(-0.64,0)(16,0.01)(20,0.02)(32.46,0.01)}
\Cell{ggrG}{(-0.64,0)(17.0,0)(17.2,0.62)(18,0.55)(19,0.5)(20.2,0.55)(22,0.45)(24,0.38)(26,0.33)(28,0.28)(30,0.22)(32,0.15)(32.1,0.3)(32.46,0.32)}
\Cell{ggrG}{(-0.64,0)(17.0,0)(17.1,0.85)(18,0.78)(19,0.75)(20.2,0.8)(22,0.68)(24,0.6)(26,0.55)(28,0.5)(30,0.42)(31.5,0.35)(32,0.45)(32.46,0.55)}
% ---------------- row 20
\First{112918}{ggrr}{(-0.64,0)(10,0.01)(20,0.02)(32.46,0.03)}
\Cell{ggGG}{(-0.64,0)(16,0.01)(20,0.02)(32.46,0.01)}
\Cell{ggrG}{(-0.64,0)(16,0.01)(20,0.03)(32.46,0.01)}
\Cell{ggrG}{(-0.64,0)(16,0.01)(20,0.02)(32.46,0.01)}
\Cell{ggrG}{(-0.64,0)(16,0.01)(20,0.02)(32.46,0.01)}
\Cell{ggrG}{(-0.64,0)(11.2,0)(11.4,0.3)(12.5,0.4)(13.2,0.45)(13.8,0.38)(14.3,0.5)(15.5,0.6)(16.5,0.62)(17.5,0.72)(18.5,0.8)(19.5,0.72)(20.2,0.75)(22,0.62)(24,0.5)(26,0.42)(28,0.35)(30,0.28)(30.5,0.45)(32.46,0.35)}
\Cell{ggrG}{(-0.64,0)(11.7,0)(11.9,0.55)(12.5,0.6)(13.5,0.68)(14.2,0.75)(15,0.7)(16,0.82)(17,0.88)(17.6,0.97)(18.5,0.92)(19.5,0.88)(20.2,0.85)(22,0.75)(24,0.67)(26,0.6)(28,0.52)(29.8,0.45)(30,0.62)(31,0.57)(32.46,0.5)}
% ---------------- row 21
\First{138464}{gggG}{(-0.64,0)(19.5,0.01)(20.5,0.05)(26,0.05)(32.46,0.06)}
\Cell{gggG}{(-0.64,0)(19.5,0.01)(20.5,0.06)(21.5,0.02)(32.46,0.01)}
\Cell{gggG}{(-0.64,0)(19.5,0.01)(20.5,0.05)(23,0.05)(24,0.02)(32.46,0.01)}
\Cell{gggG}{(-0.64,0)(19.5,0.01)(20.5,0.05)(22,0.02)(32.46,0.01)}
\Cell{gggG}{(-0.64,0)(19.5,0.01)(20.5,0.05)(22,0.02)(32.46,0.01)}
\Cell{gggG}{(-0.64,0)(18.3,0)(18.6,0.6)(19.2,0.95)(20.0,1.0)(21,0.88)(22,0.78)(23,0.85)(24,0.75)(25,0.68)(26,0.63)(26.5,0.75)(27.5,0.68)(28.5,0.6)(29.5,0.55)(30,0.62)(31,0.5)(32.46,0.45)}
\Cell{gggG}{(-0.64,0)(18.4,0)(18.7,0.7)(19.3,1.0)(20.2,0.98)(21,0.9)(22,0.85)(23,0.92)(24,0.82)(25,0.78)(26,0.72)(26.5,0.82)(28,0.72)(29.5,0.65)(30,0.72)(31,0.66)(32.46,0.62)}
% ---------------- row 22
\First{192041}{ggrg}{(-0.64,0)(10,0.01)(32.46,0.02)}
\Cell{ggrR}{(-0.64,0)(14,0.01)(15,0.03)(16,0.01)(32.46,0.01)}
\Cell{ggGg}{(-0.64,0)(14,0.01)(16,0.02)(32.46,0.01)}
\Cell{ggGg}{(-0.64,0)(14,0.01)(16,0.02)(32.46,0.01)}
\Cell{ggGg}{(-0.64,0)(14,0.01)(16,0.02)(32.46,0.01)}
\Cell{ggGg}{(-0.64,0)(14.3,0)(14.5,0.95)(15.2,0.85)(16,0.75)(16.8,0.8)(18,0.68)(19.2,0.62)(20.2,0.58)(22,0.45)(24,0.35)(26,0.27)(28,0.2)(30,0.16)(32.46,0.12)}
\Cell{ggGg}{(-0.64,0)(14.3,0)(14.6,1.0)(15.5,0.95)(16.5,0.88)(17.5,0.85)(18.5,0.78)(20.2,0.7)(22,0.6)(24,0.5)(26,0.42)(28,0.35)(30,0.3)(32.46,0.25)}
% ---------------- row 23
\First{147795}{gggr}{(-0.64,0)(10,0.01)(32.46,0.02)}
\Cell{gggG}{(-0.64,0)(16,0.01)(20,0.02)(32.46,0.01)}
\Cell{gggG}{(-0.64,0)(16,0.01)(20,0.02)(32.46,0.01)}
\Cell{gggG}{(-0.64,0)(16,0.01)(20,0.02)(32.46,0.01)}
\Cell{gggG}{(-0.64,0)(16,0.01)(20,0.02)(32.46,0.01)}
\Cell{gggG}{(-0.64,0)(17.0,0)(17.2,0.62)(18,0.55)(19,0.52)(20.2,0.58)(21,0.5)(23,0.4)(25,0.32)(27,0.26)(29,0.2)(31,0.17)(32.46,0.14)}
\Cell{gggG}{(-0.64,0)(17.0,0)(17.2,0.8)(18,0.78)(18.5,0.72)(19,0.82)(20.2,0.78)(22,0.65)(24,0.55)(26,0.46)(28,0.38)(30,0.32)(32.46,0.27)}
% ---------------- row 24
\First{176994}{gggr}{(-0.64,0)(10,0.01)(20,0.02)(32.46,0.04)}
\Cell{gggG}{(-0.64,0)(16,0.01)(20,0.03)(21,0.01)(32.46,0.01)}
\Cell{gggG}{(-0.64,0)(16,0.01)(20,0.03)(22,0.02)(32.46,0.01)}
\Cell{gggG}{(-0.64,0)(16,0.01)(20,0.02)(32.46,0.01)}
\Cell{gggG}{(-0.64,0)(16,0.01)(20,0.02)(32.46,0.01)}
\Cell{gggG}{(-0.64,0)(17.0,0)(17.2,0.85)(18,0.78)(19,0.82)(20.3,0.95)(21,0.85)(22,0.78)(23,0.72)(24,0.85)(25,0.78)(26.5,0.65)(27.5,0.58)(28,0.72)(29.5,0.68)(30.5,0.75)(31.5,0.65)(32.46,0.7)}
\Cell{gggG}{(-0.64,0)(17.0,0)(17.2,0.95)(18,0.98)(19,0.92)(20.3,1.0)(21,0.92)(22,0.85)(23,0.8)(24,0.95)(25,0.85)(26.5,0.72)(27.5,0.65)(28,0.82)(29.5,0.78)(30.5,0.88)(31.5,0.8)(32.46,0.85)}
% ---------------- row 25
\First{189156}{gggr}{(-0.64,0)(10,0.01)(32.46,0.02)}
\Cell{gggG}{(-0.64,0)(16,0.01)(32.46,0.01)}
\Cell{gggr}{(-0.64,0)(16,0.01)(32.46,0.01)}
\Cell{gggG}{(-0.64,0)(16,0.01)(32.46,0.01)}
\Cell{gggG}{(-0.64,0)(16,0.01)(32.46,0.01)}
\Cell{gggr}{(-0.64,0)(17.0,0)(17.3,0.25)(18,0.35)(19,0.42)(20.2,0.5)(21,0.65)(22,0.6)(23,0.55)(24,0.7)(25,0.62)(26,0.55)(27,0.6)(28,0.65)(29,0.6)(30,0.75)(31,0.7)(32.46,0.75)}
\Cell{gggr}{(-0.64,0)(17.0,0)(17.3,0.35)(18,0.5)(19,0.6)(20.2,0.75)(21,0.85)(22,0.8)(23,0.75)(24,0.9)(25,0.85)(26,0.75)(27,0.8)(28,0.85)(29,0.8)(30,0.9)(31,0.85)(32.46,0.9)}
% ---------------- row 26
\First{103021}{gggr}{(-0.64,0)(10,0.01)(32.46,0.02)}
\Cell{gggG}{(-0.64,0)(16,0.01)(32.46,0.01)}
\Cell{gggr}{(-0.64,0)(16,0.01)(32.46,0.01)}
\Cell{gggG}{(-0.64,0)(16,0.01)(32.46,0.01)}
\Cell{gggG}{(-0.64,0)(16,0.01)(32.46,0.01)}
\Cell{gggr}{(-0.64,0)(20.0,0)(20.2,0.45)(20.8,0.55)(21.5,0.52)(22.3,0.65)(23.5,0.58)(24.5,0.55)(25.5,0.6)(26.5,0.52)(27.5,0.5)(28.5,0.48)(29.5,0.55)(30.5,0.45)(31.5,0.4)(32.46,0.35)}
\Cell{gggr}{(-0.64,0)(20.0,0)(20.2,0.72)(21,0.8)(21.5,0.75)(22.3,0.85)(23.5,0.78)(24.5,0.72)(25.5,0.8)(26.5,0.75)(27.5,0.68)(28.5,0.65)(29.5,0.75)(30.5,0.68)(31.5,0.62)(32.46,0.58)}
% ---------------- row 27
\nextgroupplot[LEFT,ylabel={122394}]\VL rrrg \addplot[CV] coordinates {(-0.64,0)(32.46,0)};
\Zero{rrrg}\Zero{rrrg}\Zero{rrrg}\Zero{rrrg}\Zero{rrrg}\Zero{rrrg}
% ---------------- row 28
\First{166638}{ggrr}{(-0.64,0)(32.46,0.01)}
\Cell{ggrG}{(-0.64,0)(32.46,0.01)}
\Cell{ggrr}{(-0.64,0)(32.46,0.01)}
\Cell{ggrr}{(-0.64,0)(32.46,0.01)}
\Cell{ggrr}{(-0.64,0)(32.46,0.01)}
\Cell{ggrr}{(-0.64,0)(0,0.03)(1,0.06)(2,0.08)(4,0.1)(6,0.12)(8,0.15)(9,0.2)(10,0.22)(11.5,0.35)(12.5,0.3)(13.5,0.38)(14.5,0.35)(15.5,0.42)(16.5,0.38)(17.5,0.45)(18.5,0.4)(19.5,0.45)(20.5,0.38)(21.5,0.35)(22.5,0.45)(23.5,0.5)(24.5,0.42)(25.5,0.38)(26.5,0.45)(27.5,0.38)(28.5,0.35)(29.5,0.42)(30.5,0.4)(31.5,0.38)(32.46,0.38)}
\Cell{ggrr}{(-0.64,0)(0,0.03)(1,0.08)(2,0.12)(4,0.15)(6,0.18)(8,0.2)(9,0.3)(10,0.32)(11.5,0.45)(12.5,0.42)(13.5,0.5)(14.5,0.48)(15.5,0.55)(16.5,0.5)(17.5,0.6)(18.5,0.55)(19.5,0.62)(20.2,0.7)(21,0.6)(22,0.55)(23,0.65)(24,0.7)(25,0.6)(26,0.55)(27,0.62)(28,0.58)(29,0.65)(30,0.7)(31,0.62)(32.46,0.6)}
% ---------------- row 29
\First{115993}{ggrr}{(-0.64,0)(20,0.01)(32.46,0.02)}
\Cell{ggGr}{(-0.64,0)(30,0.01)(32,0.03)(32.46,0.02)}
\Cell{ggrr}{(-0.64,0)(32.46,0.01)}
\Cell{ggrr}{(-0.64,0)(32.46,0.01)}
\Cell{ggrr}{(-0.64,0)(32.46,0.01)}
\Cell{ggrr}{(-0.64,0)(17.0,0)(17.2,0.2)(18,0.22)(19,0.28)(20.2,0.45)(21,0.4)(22,0.42)(23,0.38)(24,0.35)(25,0.32)(26,0.3)(27,0.38)(28,0.45)(29,0.35)(30,0.4)(31,0.55)(31.8,0.8)(32.46,0.75)}
\Cell{ggrr}{(-0.64,0)(17.0,0)(17.2,0.4)(18.5,0.35)(20.2,0.75)(21,0.7)(22,0.68)(23,0.62)(24,0.6)(25,0.58)(26,0.55)(27,0.62)(28,0.65)(29,0.58)(30,0.68)(31,0.8)(31.8,0.92)(32.46,0.9)}
% ---------------- row 30
\First{144783}{ggrg}{(-0.64,0)(10,0.01)(32.46,0.03)}
\Cell{ggrg}{(-0.64,0)(5,0.01)(15,0.02)(32.46,0.01)}
\Cell{ggGg}{(-0.64,0)(5,0.01)(15,0.02)(32.46,0.01)}
\Cell{ggrg}{(-0.64,0)(5,0.01)(15,0.02)(32.46,0.01)}
\Cell{ggrg}{(-0.64,0)(5,0.01)(15,0.02)(32.46,0.01)}
\Cell{ggGg}{(-0.64,0)(-0.3,0.03)(0.5,0.05)(2,0.03)(3.2,0.08)(3.5,0.4)(4.5,0.35)(5.5,0.45)(6.5,0.4)(7.3,0.5)(8.5,0.45)(9.5,0.55)(10.5,0.48)(11.5,0.55)(12.5,0.4)(13.5,0.5)(14.5,0.55)(15.2,0.65)(16,0.5)(17,0.72)(18,0.6)(19.2,0.55)(20.2,0.5)(21.5,0.45)(23,0.35)(24,0.4)(26,0.3)(28,0.25)(30,0.2)(32.46,0.15)}
\Cell{ggGg}{(-0.64,0)(-0.3,0.03)(0.5,0.05)(2,0.05)(3.2,0.1)(3.5,0.45)(4.5,0.5)(5.5,0.6)(6.5,0.55)(7.5,0.7)(8.5,0.62)(9.5,0.72)(10.5,0.65)(11.5,0.8)(12.5,0.7)(13.5,0.75)(14.5,0.72)(15.2,0.85)(16,0.8)(17,0.92)(18,0.82)(19.2,0.75)(20.2,0.8)(22,0.65)(24,0.55)(26,0.47)(28,0.4)(30,0.35)(32.46,0.3)}
% ---------------- row 31
\First{138516}{ggGg}{(-0.64,0)(10,0.02)(20,0.03)(32.46,0.04)}
\Cell{ggrg}{(-0.64,0)(5,0.02)(10,0.01)(32.46,0.01)}
\Cell{gRrg}{(-0.64,0)(5,0.02)(10,0.01)(32.46,0.01)}
\Cell{ggrg}{(-0.64,0)(5,0.02)(10,0.01)(32.46,0.01)}
\Cell{ggrg}{(-0.64,0)(5,0.02)(10,0.01)(32.46,0.01)}
\Cell{ggrg}{(-0.64,0)(-0.3,0.05)(0,0.3)(0.5,0.2)(1.2,0.35)(2,0.5)(3,0.6)(3.5,0.72)(4.5,0.65)(5.5,0.85)(6.5,0.75)(7.5,0.78)(8.5,0.68)(9.5,0.62)(10.5,0.68)(11.5,0.6)(12.5,0.62)(14,0.55)(15,0.6)(16,0.52)(17,0.48)(18,0.5)(19,0.55)(20,0.45)(21,0.4)(22,0.5)(23,0.45)(24,0.4)(25,0.38)(26,0.33)(26.5,0.55)(27.5,0.5)(28.5,0.52)(29.5,0.45)(30.5,0.5)(31.5,0.45)(32.46,0.42)}
\Cell{ggrg}{(-0.64,0)(-0.3,0.05)(0,0.45)(0.5,0.4)(1.2,0.55)(2,0.7)(3,0.85)(3.5,0.95)(4.5,0.88)(5.5,0.92)(6.5,0.85)(7.5,0.88)(8.5,0.82)(9.5,0.8)(10.5,0.85)(11.5,0.78)(12.5,0.8)(14,0.75)(15,0.8)(16,0.72)(17,0.7)(18,0.75)(19,0.78)(20,0.68)(21,0.62)(22,0.7)(23,0.65)(24,0.6)(25,0.55)(26,0.52)(26.5,0.72)(27.5,0.68)(28.5,0.7)(29.5,0.65)(30.5,0.72)(31.5,0.68)(32.46,0.65)}
% ---------------- row 32
\First{190825}{gRgg}{(-0.64,0)(5,0.01)(10,0.02)(20,0.03)(32.46,0.04)}
\Cell{gRRg}{(-0.64,0)(5,0.01)(10,0.02)(32.46,0.01)}
\Cell{gRgg}{(-0.64,0)(5,0.01)(10,0.02)(32.46,0.01)}
\Cell{gRgg}{(-0.64,0)(5,0.01)(10,0.02)(32.46,0.01)}
\Cell{gRgg}{(-0.64,0)(5,0.01)(10,0.02)(32.46,0.01)}
\Cell{gRgg}{(-0.64,0)(-0.3,0.1)(0,0.3)(0.5,0.25)(1,0.5)(1.5,0.42)(2.5,0.5)(3,0.55)(4,0.48)(5,0.52)(6,0.55)(7,0.65)(8,0.58)(9,0.55)(10,0.6)(11,0.55)(12,0.52)(13,0.48)(14,0.45)(15,0.55)(16,0.52)(17,0.65)(17.5,0.72)(18.5,0.6)(19.5,0.5)(20.5,0.55)(21.5,0.75)(23,0.62)(25,0.48)(27,0.37)(29,0.3)(31,0.24)(32.46,0.2)}
\Cell{gRgg}{(-0.64,0)(-0.3,0.1)(0,0.4)(0.5,0.35)(1,0.65)(1.5,0.55)(2.5,0.7)(3,0.75)(4,0.68)(5,0.78)(6,0.72)(7,0.8)(8,0.75)(9,0.78)(10,0.82)(11,0.75)(12,0.72)(13,0.7)(14,0.68)(15,0.75)(16,0.72)(17,0.8)(17.5,0.85)(18.5,0.75)(19.5,0.7)(20.5,0.8)(21.5,0.85)(23,0.75)(25,0.62)(27,0.52)(29,0.44)(31,0.37)(32.46,0.33)}
% ---------------- row 33
\First{156825}{ggrg}{(-0.64,0)(32.46,0.01)}
\Cell{ggrR}{(-0.64,0)(32.46,0.01)}
\Cell{ggrg}{(-0.64,0)(32.46,0.01)}
\Cell{ggrg}{(-0.64,0)(32.46,0.01)}
\Cell{ggrg}{(-0.64,0)(32.46,0.01)}
\Cell{ggrg}{(-0.64,0)(3.3,0)(3.5,0.1)(5,0.12)(7,0.1)(8.5,0.12)(10,0.15)(12,0.12)(14,0.15)(16,0.18)(18,0.15)(19.5,0.18)(20.2,0.3)(22,0.25)(24,0.22)(26,0.2)(28,0.16)(29.5,0.2)(31,0.16)(32,0.2)(32.3,0.45)(32.46,0.45)}
\Cell{ggrg}{(-0.64,0)(3.3,0)(3.5,0.2)(5,0.22)(6,0.18)(7,0.25)(8.5,0.22)(10,0.28)(12,0.25)(14,0.3)(16,0.28)(17,0.35)(18,0.3)(20.2,0.45)(22,0.4)(24,0.38)(26,0.35)(28,0.32)(30,0.4)(31,0.35)(32,0.45)(32.3,0.7)(32.46,0.68)}
% ---------------- rows 34-49 (provisional)
\FirstF{138625}{gggr}\Flat{gggr}\Flat{gggr}\Flat{gggr}\Flat{gggr}
\Cell{gggr}{(-0.64,0)(20.5,0)(21,0.4)(24,0.35)(28,0.25)(32.46,0.2)}
\Cell{gggr}{(-0.64,0)(20.5,0)(21,0.5)(24,0.45)(28,0.35)(32.46,0.3)}
\FirstF{181098}{gggr}\Flat{gggr}\Flat{gggr}\Flat{gggr}\Flat{gggr}
\Cell{gggr}{(-0.64,0)(4,0)(5,0.2)(6,0.45)(8,0.4)(12,0.3)(16,0.25)(20,0.2)(26,0.15)(32.46,0.1)}
\Cell{gggr}{(-0.64,0)(4,0)(5,0.25)(6,0.55)(8,0.5)(12,0.4)(16,0.33)(20,0.27)(26,0.2)(32.46,0.15)}
\FirstF{119038}{gggr}\Flat{gggr}\Flat{gggr}\Flat{gggr}\Flat{gggr}\Flat{gggr}\Flat{gggr}
\FirstF{160554}{gggr}\Flat{gggr}\Flat{gggr}\Flat{gggr}\Flat{gggr}
\Cell{gggr}{(-0.64,0)(4,0)(5,0.2)(8,0.18)(12,0.14)(16,0.1)(24,0.06)(32.46,0.04)}
\Cell{gggr}{(-0.64,0)(4,0)(5,0.25)(8,0.22)(12,0.18)(16,0.14)(24,0.1)(32.46,0.07)}
\FirstF{122561}{gggr}\Flat{gggr}\Flat{gggr}\Flat{gggr}\Flat{gggr}\Flat{gggr}\Flat{gggr}
\FirstF{167260}{gggr}\Flat{gggr}\Flat{gggr}\Flat{gggr}\Flat{gggr}
\Cell{gggr}{(-0.64,0)(0,0.2)(4,0.25)(8,0.2)(12,0.3)(16,0.25)(20,0.3)(24,0.2)(28,0.25)(32.46,0.2)}
\Cell{gggr}{(-0.64,0)(0,0.25)(4,0.3)(8,0.25)(12,0.35)(16,0.3)(20,0.35)(24,0.25)(28,0.3)(32.46,0.25)}
\FirstF{158577}{gggr}\Flat{gggr}\Flat{gggr}\Flat{gggr}\Flat{gggr}
\Cell{gggr}{(-0.64,0)(4,0.05)(10,0.15)(16,0.2)(20,0.25)(26,0.2)(32.46,0.15)}
\Cell{gggr}{(-0.64,0)(4,0.05)(10,0.2)(16,0.25)(20,0.3)(26,0.25)(32.46,0.2)}
\FirstF{104434}{gggr}\Flat{gggr}\Flat{gggr}\Flat{gggr}\Flat{gggr}
\Cell{gggr}{(-0.64,0)(4,0.05)(10,0.1)(16,0.15)(20,0.2)(26,0.25)(32.46,0.3)}
\Cell{gggr}{(-0.64,0)(4,0.05)(10,0.12)(16,0.18)(20,0.25)(26,0.3)(32.46,0.35)}
\FirstF{102798}{gggr}\Flat{gggr}\Flat{gggr}\Flat{gggr}\Flat{gggr}
\Cell{gggr}{(-0.64,0)(20,0)(20.5,0.3)(24,0.25)(28,0.2)(32.46,0.15)}
\Cell{gggr}{(-0.64,0)(20,0)(20.5,0.4)(24,0.35)(28,0.28)(32.46,0.22)}
\FirstF{186530}{gggr}\Flat{gggr}\Flat{gggr}\Flat{gggr}\Flat{gggr}
\Cell{gggr}{(-0.64,0)(20.5,0)(21,0.5)(24,0.4)(28,0.3)(32.46,0.25)}
\Cell{gggr}{(-0.64,0)(20.5,0)(21,0.6)(24,0.5)(28,0.4)(32.46,0.35)}
\FirstF{125870}{gggr}\Flat{gggr}\Flat{gggr}\Flat{gggr}\Flat{gggr}
\Cell{gggr}{(-0.64,0)(20.5,0)(21,0.2)(24,0.18)(28,0.14)(32.46,0.1)}
\Cell{gggr}{(-0.64,0)(20.5,0)(21,0.3)(24,0.25)(28,0.2)(32.46,0.15)}
\FirstF{108402}{gggr}\Flat{gggr}\Flat{gggr}\Flat{gggr}\Flat{gggr}\Flat{gggr}\Flat{gggr}
\FirstF{104885}{gggr}\Flat{gggr}\Flat{gggr}\Flat{gggr}\Flat{gggr}
\Cell{gggr}{(-0.64,0)(19.5,0)(20,0.15)(24,0.12)(28,0.1)(32.46,0.08)}
\Cell{gggr}{(-0.64,0)(19.5,0)(20,0.2)(24,0.17)(28,0.14)(32.46,0.11)}
\FirstF{180142}{gggr}\Flat{gggr}\Flat{gggr}\Flat{gggr}\Flat{gggr}\Flat{gggr}\Flat{gggr}
\FirstF{144477}{gggr}\Flat{gggr}\Flat{gggr}\Flat{gggr}\Flat{gggr}\Flat{gggr}\Flat{gggr}
% ---------------- row 49 (bottom)
\nextgroupplot[LEFT,BOT,ylabel={139603}]\VL gggr \addplot[CV] coordinates {(-0.64,0.01)(32.46,0.01)};
\nextgroupplot[BOT]\VL gggr \addplot[CV] coordinates {(-0.64,0.01)(32.46,0.01)};
\nextgroupplot[BOT]\VL gggr \addplot[CV] coordinates {(-0.64,0.01)(32.46,0.01)};
\nextgroupplot[BOT]\VL gggr \addplot[CV] coordinates {(-0.64,0.01)(32.46,0.01)};
\nextgroupplot[BOT]\VL gggr \addplot[CV] coordinates {(-0.64,0.01)(32.46,0.01)};
\nextgroupplot[BOT]\VL gggr \addplot[CV] coordinates {(-0.64,0)(4,0)(5,0.3)(8,0.35)(12,0.3)(16,0.4)(20,0.35)(24,0.3)(28,0.35)(32.46,0.3)};
\nextgroupplot[BOT]
\coordinate (BR) at (rel axis cs:1,0);
\VL gggr \addplot[CV] coordinates {(-0.64,0)(4,0)(5,0.35)(8,0.4)(12,0.35)(16,0.45)(20,0.4)(24,0.35)(28,0.4)(32.46,0.35)};
\end{groupplot}
\node[font=\bfseries\fontsize{17.28}{20}\selectfont] at ([xshift=565.56pt, yshift=151.2pt]TL) {30076 Signals};
\pgfresetboundingbox
\path[use as bounding box] ([xshift=-64.44pt, yshift=244.08pt]TL) rectangle ([xshift=75.96pt, yshift=-87.62pt]BR);
\end{tikzpicture}
\end{document}
